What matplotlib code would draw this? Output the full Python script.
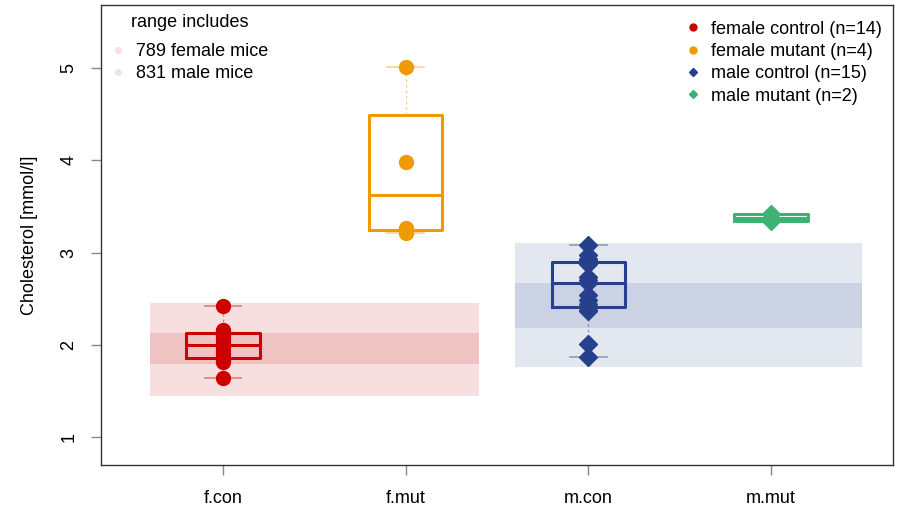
import numpy as np
import matplotlib.pyplot as plt
from matplotlib.lines import Line2D

plt.rcParams['font.family'] = ['Liberation Sans', 'DejaVu Sans']

# groups and measured values (mmol/l)
groups = ['f.con', 'f.mut', 'm.con', 'm.mut']
legend_names = ['female control', 'female mutant', 'male control', 'male mutant']
f_con = [1.64, 1.81, 1.83, 1.85, 1.90, 1.93, 1.97, 2.03, 2.06, 2.10, 2.13, 2.14, 2.16, 2.42]
f_mut = [3.21, 3.27, 3.98, 5.01]
m_con = [1.87, 2.01, 2.36, 2.38, 2.44, 2.48, 2.54, 2.67, 2.70, 2.74, 2.88, 2.92, 2.93, 2.97, 3.08]
m_mut = [3.34, 3.415]
values = [f_con, f_mut, m_con, m_mut]

# reference ranges of the background population
ref_labels = ['789 female mice', '831 male mice']
ref_outer = [(1.445, 2.453), (1.759, 3.104)]
ref_inner = [(1.79, 2.128), (2.18, 2.67)]
ref_xspan = [(0.6, 2.4), (2.6, 4.5)]

colors = ['#CD0000', '#EE9A00', '#27408B', '#3CB371']
markers = ['o', 'o', 'D', 'D']
band_outer = ['#F7DEDF', '#E2E7F0']
band_inner = ['#F0C3C3', '#CBD2E3']


def fivenum_stats(v):
    v = np.sort(np.asarray(v, dtype=float))
    n = len(v)
    n4 = np.floor((n + 3) / 2) / 2
    d = np.array([1, n4, (n + 1) / 2, n + 1 - n4, n]) - 1
    q = 0.5 * (v[np.floor(d).astype(int)] + v[np.ceil(d).astype(int)])
    iqr = q[3] - q[1]
    lo = v[v >= q[1] - 1.5 * iqr].min()
    hi = v[v <= q[3] + 1.5 * iqr].max()
    return dict(med=q[2], q1=q[1], q3=q[3], whislo=lo, whishi=hi, fliers=[])


fig = plt.figure(figsize=(8.97, 5.11), dpi=100)
ax = fig.add_axes([0.1126, 0.09, 0.883, 0.90])

pos = np.arange(1, len(groups) + 1)

# reference bands, one per sex
for i in range(2):
    ax.fill_between(ref_xspan[i], *ref_outer[i], color=band_outer[i], lw=0, zorder=0)
    ax.fill_between(ref_xspan[i], *ref_inner[i], color=band_inner[i], lw=0, zorder=0)

for i, v in enumerate(values):
    st = fivenum_stats(v)
    c = colors[i]
    ax.bxp([st], positions=[pos[i]], widths=0.4, showfliers=False,
           boxprops=dict(color=c, lw=2.2),
           medianprops=dict(color=c, lw=2.2),
           whiskerprops=dict(color=c, lw=1, ls=(0, (2, 2)), alpha=0.45),
           capprops=dict(color=c, lw=1.2, alpha=0.45),
           capwidths=0.2, zorder=2)
    ax.plot(np.full(len(v), pos[i]), v, ls='none', marker=markers[i],
            ms=10 if markers[i] == 'o' else 9, color=c, mec=c, zorder=3)

ax.set_xlim(0.332, 4.668)
ax.set_ylim(0.693, 5.687)
ax.set_xticks(pos)
ax.set_xticklabels(groups)
ax.set_yticks([1, 2, 3, 4, 5])
ax.set_yticklabels(['1', '2', '3', '4', '5'], rotation=90, va='center')
ax.tick_params(axis='both', labelsize=13, length=7, color='#888888', width=1)
ax.tick_params(axis='x', pad=11)
ax.tick_params(axis='y', pad=10)
ax.set_ylabel('Cholesterol [mmol/l]', fontsize=13, labelpad=16)
for s in ax.spines.values():
    s.set_color('#333333')
    s.set_linewidth(1)

# legends
ax.text(0.038, 0.98, 'range includes', transform=ax.transAxes, fontsize=13,
        ha='left', va='top')
ref_handles = [Line2D([], [], ls='none', marker='o', ms=4, color=band_outer[i])
               for i in range(2)]
leg1 = ax.legend(ref_handles, ref_labels, loc='upper left', bbox_to_anchor=(-0.004, 0.945),
                 frameon=False, fontsize=13, handlelength=0.8,
                 handletextpad=0.6, borderaxespad=0.3, labelspacing=0.3)
ax.add_artist(leg1)

grp_handles = [Line2D([], [], ls='none', marker=markers[i], ms=5 if markers[i] == 'o' else 4.5,
                      color=colors[i]) for i in range(len(groups))]
grp_labels = ['%s (n=%d)' % (legend_names[i], len(values[i])) for i in range(len(groups))]
ax.legend(grp_handles, grp_labels, loc='upper right', bbox_to_anchor=(1.002, 0.994),
          frameon=False, fontsize=13, handlelength=0.8, handletextpad=0.6,
          labelspacing=0.3, borderaxespad=0.3)

plt.savefig('out.png', dpi=100)
